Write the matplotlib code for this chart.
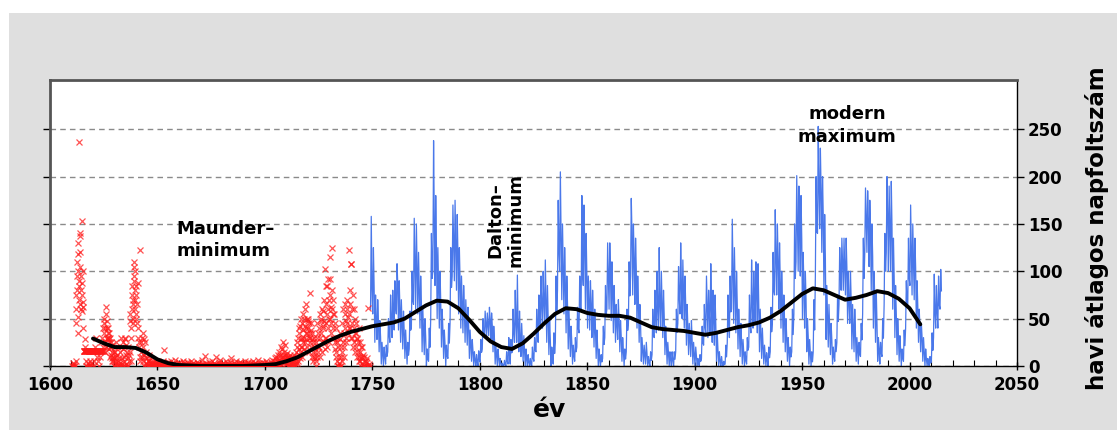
import numpy as np
import matplotlib.pyplot as plt
from matplotlib.patches import Rectangle
from matplotlib.ticker import MultipleLocator

# Wolf-féle napfoltszám (1749-2014): éves átlag, havi maximum, havi minimum
sn_year = np.arange(1749, 2015)
sn_mean = [
    80.9, 83.4, 47.7, 47.8, 30.7, 12.2, 9.6, 10.2, 32.4, 47.6, 54.0,
    62.9, 85.9, 61.2, 45.1, 36.4, 20.9, 11.4, 37.8, 69.8, 106.1,
    100.8, 81.6, 66.5, 34.8, 30.6, 7.0, 19.8, 92.5, 154.4, 125.9,
    84.8, 68.1, 38.5, 22.8, 10.2, 24.1, 82.9, 132.0, 130.9, 118.1,
    89.9, 66.6, 60.0, 46.9, 41.0, 21.3, 16.0, 6.4, 4.1, 6.8,
    14.5, 34.0, 45.0, 43.1, 47.5, 42.2, 28.1, 10.1, 8.1, 2.5,
    0.0, 1.4, 5.0, 12.2, 13.9, 35.4, 45.8, 41.1, 30.1, 23.9,
    15.6, 6.6, 4.0, 1.8, 8.5, 16.6, 36.3, 49.6, 64.2, 67.0,
    70.9, 47.8, 27.5, 8.5, 13.2, 56.9, 121.5, 138.3, 103.2, 85.7,
    64.6, 36.7, 24.2, 10.7, 15.0, 40.1, 61.5, 98.5, 124.7, 96.3,
    66.6, 64.5, 54.1, 39.0, 20.6, 6.7, 4.3, 22.7, 54.8, 93.8,
    95.8, 77.2, 59.1, 44.0, 47.0, 30.5, 16.3, 7.3, 37.6, 74.0,
    139.0, 111.2, 101.6, 66.2, 44.7, 17.0, 11.3, 12.4, 3.4, 6.0,
    32.3, 54.3, 59.7, 63.7, 63.5, 52.2, 25.4, 13.1, 6.8, 6.3,
    7.1, 35.6, 73.0, 85.1, 78.0, 64.0, 41.8, 26.2, 26.7, 12.1,
    9.5, 2.7, 5.0, 24.4, 42.0, 63.5, 53.8, 62.0, 48.5, 43.9,
    18.6, 5.7, 3.6, 1.4, 9.6, 47.4, 57.1, 103.9, 80.6, 63.6,
    37.6, 26.1, 14.2, 5.8, 16.7, 44.3, 63.9, 69.0, 77.8, 64.9,
    35.7, 21.2, 11.1, 5.7, 8.7, 36.1, 79.7, 114.4, 109.6, 88.8,
    67.8, 47.5, 30.6, 16.3, 9.6, 33.2, 92.6, 151.6, 136.3, 134.7,
    83.9, 69.4, 31.5, 13.9, 4.4, 38.0, 141.7, 190.2, 184.8, 159.0,
    112.3, 53.9, 37.6, 27.9, 10.2, 15.1, 47.0, 93.8, 105.9, 105.5,
    104.5, 66.6, 68.9, 38.0, 34.5, 15.5, 12.6, 27.5, 92.5, 155.4,
    154.6, 140.4, 115.9, 66.6, 45.9, 17.9, 13.4, 29.4, 100.2, 157.6,
    142.6, 145.7, 94.3, 54.6, 29.9, 17.5, 8.6, 21.5, 64.3, 93.3,
    119.6, 111.0, 104.0, 63.7, 40.4, 29.8, 15.2, 7.5, 2.9, 3.1,
    16.5, 55.7, 57.6, 64.7, 79.3,
]
sn_hi = [
    158, 125, 75, 70, 48, 25, 20, 22, 50, 75, 80,
    90, 108, 90, 70, 58, 38, 25, 58, 100, 156,
    150, 120, 95, 60, 50, 18, 40, 140, 238, 180,
    125, 100, 60, 38, 22, 45, 125, 170, 175, 160,
    125, 95, 85, 70, 62, 38, 28, 15, 12, 16,
    28, 50, 58, 56, 62, 56, 42, 22, 18, 8,
    3, 6, 15, 30, 28, 60, 80, 96, 58, 45,
    32, 18, 12, 8, 20, 30, 60, 75, 95, 100,
    112, 85, 50, 20, 35, 95, 175, 205, 150, 125,
    95, 60, 42, 22, 30, 62, 95, 180, 170, 140,
    95, 90, 80, 60, 38, 18, 12, 42, 85, 130,
    130, 110, 85, 65, 70, 48, 30, 18, 60, 110,
    177, 150, 135, 95, 65, 30, 22, 25, 10, 15,
    60, 80, 100, 125, 100, 80, 42, 25, 15, 15,
    15, 60, 105, 130, 112, 95, 65, 45, 48, 25,
    20, 8, 12, 42, 65, 95, 80, 108, 80, 75,
    35, 15, 10, 5, 22, 75, 95, 155, 125, 100,
    60, 45, 28, 15, 30, 75, 112, 100, 110, 108,
    60, 40, 22, 14, 20, 62, 120, 165, 150, 130,
    100, 75, 50, 30, 20, 60, 150, 201, 190, 180,
    120, 100, 50, 28, 15, 70, 200, 253, 230, 200,
    160, 85, 65, 45, 20, 28, 75, 125, 135, 135,
    135, 100, 100, 65, 60, 30, 25, 45, 135, 188,
    185, 175, 150, 100, 80, 30, 25, 50, 140, 200,
    190, 195, 135, 85, 50, 32, 18, 38, 90, 135,
    170, 150, 135, 90, 60, 45, 30, 18, 8, 10,
    35, 97, 85, 95, 102,
]
sn_lo = [
    60, 55, 25, 28, 15, 2, 0, 2, 15, 25, 30,
    38, 55, 38, 25, 18, 8, 2, 18, 40, 65,
    60, 55, 40, 15, 12, 0, 5, 50, 100, 85,
    50, 40, 20, 8, 0, 8, 45, 95, 90, 80,
    55, 40, 35, 25, 22, 8, 5, 0, 0, 0,
    4, 18, 30, 30, 32, 28, 15, 2, 0, 0,
    0, 0, 0, 2, 2, 15, 25, 25, 15, 10,
    5, 0, 0, 0, 0, 5, 15, 25, 40, 40,
    45, 25, 12, 0, 2, 25, 80, 100, 70, 55,
    35, 18, 10, 2, 5, 20, 35, 60, 85, 60,
    40, 38, 30, 20, 8, 0, 0, 8, 30, 60,
    60, 48, 35, 25, 28, 15, 5, 0, 15, 45,
    95, 75, 65, 40, 25, 5, 2, 2, 0, 0,
    12, 30, 35, 38, 40, 30, 12, 2, 0, 0,
    0, 15, 45, 55, 50, 40, 22, 12, 10, 2,
    0, 0, 0, 8, 22, 35, 30, 35, 25, 22,
    5, 0, 0, 0, 2, 25, 30, 60, 45, 35,
    18, 10, 2, 0, 2, 20, 35, 40, 45, 35,
    15, 8, 2, 0, 0, 15, 45, 75, 75, 60,
    40, 25, 15, 5, 0, 15, 55, 110, 100, 95,
    50, 40, 15, 2, 0, 15, 95, 140, 145, 120,
    75, 28, 20, 12, 2, 5, 25, 65, 80, 80,
    75, 45, 45, 18, 15, 5, 2, 10, 55, 120,
    120, 105, 80, 40, 25, 5, 2, 10, 65, 120,
    100, 100, 60, 30, 12, 5, 0, 5, 40, 65,
    85, 75, 70, 40, 25, 15, 5, 0, 0, 0,
    5, 30, 40, 40, 60,
]

# csoportos napfoltszám megfigyelések 1610-1748 (évenként)
grp_year = np.arange(1610, 1749)
grp_obs = [
    [0, 0, 3], [0, 2, 0, 5],
    [45, 60, 75, 80, 95, 110, 52, 35],
    [130, 118, 100, 237, 90, 70, 85, 65, 140, 105],
    [137, 120, 95, 80, 60, 75, 88, 58],
    [153, 100, 68, 40, 62, 16, 16, 16],
    [28, 20, 16, 16, 16, 5, 0, 16, 16],
    [16, 16, 0, 16, 16, 3, 16, 16],
    [0, 16, 16, 5, 16, 16, 0, 16],
    [16, 3, 16, 16, 0, 16, 16],
    [16, 16, 5, 16, 16, 0, 16, 20],
    [16, 16, 30, 16, 16, 10, 16],
    [16, 16, 5, 16, 16, 0, 16],
    [16, 16, 10, 16, 16, 25, 16],
    [30, 16, 16, 20, 16, 40, 16],
    [45, 50, 35, 25, 40, 15, 20],
    [62, 55, 40, 30, 48, 28, 35, 22],
    [40, 30, 25, 18, 35, 28, 10, 20],
    [30, 20, 12, 25, 8, 15, 5],
    [22, 10, 5, 15, 0, 8],
    [15, 5, 0, 10, 25, 3],
    [12, 0, 5, 20, 2],
    [8, 0, 3, 15, 0],
    [30, 20, 8, 2, 0, 25],
    [18, 5, 10, 0, 28],
    [30, 22, 12, 2, 0, 15],
    [20, 8, 0, 5, 12],
    [15, 48, 55, 30, 40, 5],
    [60, 75, 85, 70, 50, 65, 45, 90],
    [95, 105, 110, 80, 70, 60, 100, 55, 85],
    [75, 50, 65, 45, 88, 40],
    [30, 20, 25, 10, 5],
    [122, 25, 15, 10, 30],
    [35, 20, 5, 28, 12, 0],
    [25, 10, 3, 0, 15],
    [8, 2, 0, 5, 0, 12],
    [5, 0, 3, 0, 8, 2], [0, 2, 0, 4, 0, 1], [3, 0, 1, 0, 5, 0], [0, 2, 0, 0, 3, 1],
    [0, 4, 1, 0, 0, 2], [1, 0, 3, 0, 0, 1], [0, 0, 2, 5, 0, 0], [17, 0, 3, 0, 1, 0],
    [0, 2, 0, 0, 4, 0], [1, 0, 0, 3, 0, 0], [0, 5, 0, 0, 1, 0], [0, 0, 2, 0, 0, 3],
    [6, 0, 0, 1, 0, 0], [0, 2, 0, 0, 0, 4], [3, 0, 0, 2, 0, 0], [0, 1, 0, 0, 5, 0],
    [0, 0, 3, 0, 0, 1], [2, 0, 0, 0, 4, 0], [0, 3, 0, 1, 0, 0], [0, 0, 0, 5, 0, 2],
    [1, 0, 3, 0, 0, 0], [0, 2, 0, 0, 1, 0], [0, 0, 4, 0, 0, 2], [3, 0, 0, 1, 0, 0],
    [0, 1, 0, 0, 6, 0], [0, 0, 2, 0, 0, 1], [11, 0, 0, 3, 0, 0], [0, 2, 0, 0, 0, 4],
    [1, 0, 0, 2, 0, 0], [0, 0, 5, 0, 1, 0], [0, 3, 0, 0, 0, 2], [10, 0, 0, 1, 0, 0],
    [0, 0, 2, 0, 4, 0], [0, 6, 0, 0, 1, 0], [2, 0, 0, 3, 0, 0], [0, 0, 1, 0, 0, 5],
    [0, 3, 0, 0, 2, 0], [1, 0, 0, 4, 0, 0], [0, 8, 0, 0, 1, 0], [0, 0, 3, 0, 0, 2],
    [2, 0, 0, 5, 0, 0], [0, 1, 0, 0, 3, 0], [0, 0, 4, 0, 0, 1], [3, 0, 0, 2, 0, 0],
    [0, 2, 0, 0, 5, 0], [0, 0, 1, 0, 0, 3], [4, 0, 0, 2, 0, 0], [0, 0, 3, 0, 1, 0],
    [0, 5, 0, 0, 0, 2], [1, 0, 0, 3, 0, 0], [0, 0, 2, 0, 6, 0], [0, 3, 0, 0, 1, 0],
    [2, 0, 0, 4, 0, 0], [0, 1, 0, 0, 3, 0], [0, 0, 5, 0, 0, 2], [3, 0, 0, 1, 0, 0],
    [0, 2, 0, 0, 4, 0], [0, 0, 6, 0, 1, 0], [5, 0, 2, 0, 8, 0],
    [3, 10, 0, 5, 2, 12], [8, 0, 15, 3, 6, 0], [12, 5, 20, 2, 9, 4],
    [18, 6, 10, 25, 3, 12], [15, 8, 22, 5, 12, 2], [10, 3, 14, 0, 6, 8],
    [5, 0, 9, 2, 12, 0], [3, 8, 0, 5, 1, 10], [0, 4, 12, 2, 6, 0],
    [8, 2, 15, 5, 20, 3],
    [25, 10, 30, 5, 18, 40, 12],
    [35, 15, 42, 8, 28, 20, 50],
    [45, 20, 30, 10, 38, 25, 55],
    [50, 30, 18, 42, 60, 25, 35],
    [65, 40, 28, 50, 20, 35, 48],
    [50, 40, 30, 15, 45, 25, 35],
    [77, 30, 45, 20, 38, 10, 28],
    [35, 15, 25, 5, 30, 10],
    [20, 8, 15, 0, 25, 5],
    [30, 10, 45, 20, 15, 35],
    [40, 20, 55, 30, 10, 48],
    [50, 35, 25, 60, 15, 42],
    [58, 40, 70, 25, 48, 30, 18],
    [102, 65, 45, 85, 30, 55, 20],
    [85, 60, 92, 40, 70, 25, 50],
    [92, 75, 50, 115, 35, 62, 45],
    [125, 80, 60, 40, 70, 30, 55],
    [55, 30, 45, 18, 25, 10],
    [40, 15, 25, 5, 30, 0],
    [20, 0, 10, 3, 28, 0],
    [35, 10, 0, 20, 5, 15],
    [45, 25, 60, 10, 35, 20],
    [65, 40, 55, 25, 48, 30],
    [60, 45, 70, 35, 52, 40],
    [122, 55, 80, 40, 65, 30],
    [108, 108, 60, 30, 45, 20],
    [75, 40, 60, 25, 35, 15],
    [50, 35, 20, 45, 10, 28],
    [30, 15, 25, 5, 40, 10],
    [25, 5, 15, 0, 20, 8],
    [20, 3, 10, 0, 12, 0],
    [10, 0, 5, 0, 3],
    [5, 0, 8, 0],
    [61, 2, 0],
]

# simított görbe
smooth_year = [1620, 1625, 1630, 1635, 1640, 1645, 1650, 1655, 1660, 1665, 1670, 1680,
               1690, 1700, 1705, 1710, 1715, 1720, 1725, 1730, 1735, 1740, 1745, 1750,
               1755, 1760, 1765, 1770, 1775, 1780, 1785, 1790, 1795, 1800, 1805, 1810,
               1815, 1820, 1825, 1830, 1835, 1840, 1845, 1850, 1855, 1860, 1865, 1870,
               1875, 1880, 1885, 1890, 1895, 1900, 1905, 1910, 1915, 1920, 1925, 1930,
               1935, 1940, 1945, 1950, 1955, 1960, 1965, 1970, 1975, 1980, 1985, 1990,
               1995, 2000, 2005]
smooth_val = [29, 24, 20, 20, 19, 14, 7, 3, 1, 0.5, 0, 0,
              0, 1, 2, 5, 9, 15, 21, 27, 32, 36, 39, 42,
              44, 46, 50, 57, 64, 69, 68, 61, 49, 36, 26, 20,
              18, 24, 34, 45, 55, 61, 60, 56, 54, 53, 53, 51,
              46, 41, 39, 38, 37, 35, 33, 35, 38, 41, 43, 46,
              51, 58, 67, 76, 82, 80, 75, 70, 72, 75, 79, 77,
              71, 61, 44]

######################################################################################################################
fig = plt.figure(figsize=(11.17, 4.30), dpi=100)
fig.patches.append(Rectangle((9 / 1117, 0), 1, 1 - 13 / 430, transform=fig.transFigure,
                             facecolor='#dfdfdf', edgecolor='none', zorder=-10))
ax = fig.add_axes([50 / 1117, 1 - 366 / 430, 967 / 1117, 286 / 430])

# havi értékek: minden évre min, max, átlag sorrendben
bx, by = [], []
for yr, m, hi, lo in zip(sn_year, sn_mean, sn_hi, sn_lo):
    bx += [yr + 1 / 6, yr + 3 / 6, yr + 5 / 6]
    by += [lo, hi, m]
ax.plot(bx, by, color='#4a78ea', lw=0.9, zorder=2)

gx, gy = [], []
for yr, obs in zip(grp_year, grp_obs):
    for k, v in enumerate(obs):
        gx.append(yr + (k + 0.5) / len(obs))
        gy.append(v)
ax.plot(gx, gy, 'x', color='#ff1a1a', ms=4.5, mew=0.9, alpha=0.75, zorder=3)

ax.plot(smooth_year, smooth_val, color='black', lw=2.8, zorder=4, solid_capstyle='round')

ax.set_xlim(1600, 2050)
ax.set_ylim(0, 302)
ax.xaxis.set_major_locator(MultipleLocator(50))
ax.xaxis.set_minor_locator(MultipleLocator(10))
ax.set_yticks([0, 50, 100, 150, 200, 250])

ax.set_axisbelow(True)
ax.yaxis.grid(True, ls=(0, (4, 3)), color='#8a8a8a', lw=1)

ax.tick_params(axis='x', which='major', direction='inout', length=6, width=1, pad=4,
               labelsize=12)
ax.tick_params(axis='x', which='minor', direction='in', length=4, width=0.8)
ax.tick_params(axis='y', left=True, right=True, labelleft=False, labelright=True,
               direction='out', length=5, width=1, pad=3, labelsize=12)
for lab in ax.get_xticklabels() + ax.get_yticklabels():
    lab.set_fontweight('bold')

ax.spines['top'].set_color('#555555')
ax.spines['top'].set_linewidth(2)
ax.spines['left'].set_color('#555555')
ax.spines['left'].set_linewidth(2)
ax.spines['right'].set_linewidth(1)
ax.spines['bottom'].set_linewidth(1)

fig.text(550 / 1117, 1 - 410 / 430, 'év', ha='center', va='center', fontsize=18, fontweight='bold')
fig.text(1097 / 1117, 1 - 228 / 430, 'havi átlagos napfoltszám', ha='center', va='center',
         rotation=90, fontsize=16.5, fontweight='bold')

ax.text(1659, 133, 'Maunder–\nminimum', ha='left', va='center', fontsize=13,
        fontweight='bold', linespacing=1.3)
ax.text(1812, 154, 'Dalton–\nminimum', ha='center', va='center', rotation=90, fontsize=13,
        fontweight='bold', linespacing=1.2)
ax.text(1971, 254, 'modern\nmaximum', ha='center', va='center', fontsize=13,
        fontweight='bold', linespacing=1.3)

fig.savefig('out.png', dpi=100)
